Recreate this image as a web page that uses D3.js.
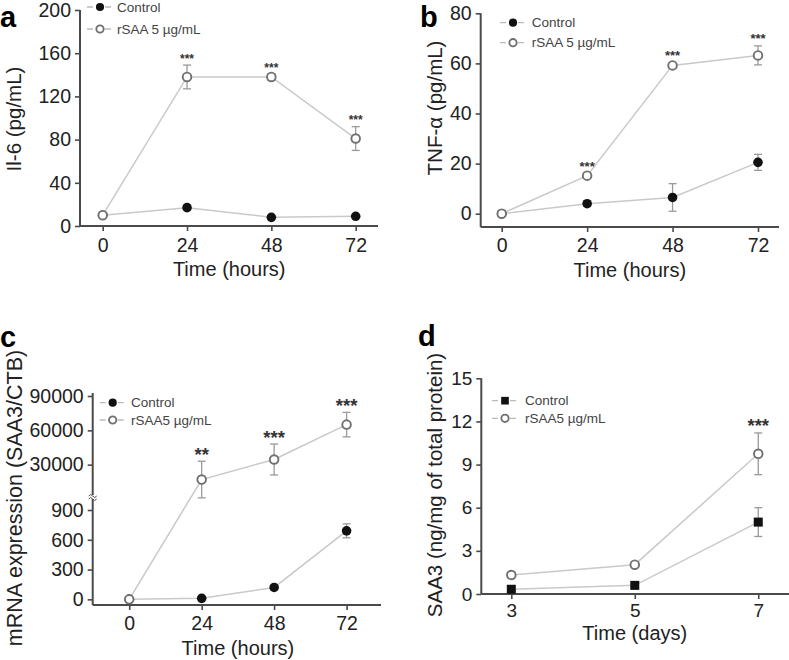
<!DOCTYPE html>
<html><head><meta charset="utf-8">
<script src="https://cdn.jsdelivr.net/npm/d3@7"></script>
<style>
body{margin:0;background:#fff;}
svg{display:block;font-family:"Liberation Sans",Arial,Helvetica,sans-serif;}
</style></head>
<body><svg id="chart" width="789" height="660"></svg>
<script>
// ---------- DATA ----------
const hours = [0, 24, 48, 72];
const days = [3, 5, 7];

const aTicks = [0, 40, 80, 120, 160, 200];
const aControl = [10, 17, 8, 9];
const aControlErr = [1, 2, 1, 1];
const aRsaa = [10, 138, 138, 81];
const aRsaaErr = [1, 11, 3, 11];
const aStars = ["", "***", "***", "***"];

const bTicks = [0, 20, 40, 60, 80];
const bControl = [0, 4, 6.5, 20.5];
const bControlErr = [0.5, 1, 5.5, 3.2];
const bRsaa = [0, 15.2, 59.2, 63.2];
const bRsaaErr = [0.5, 1, 1, 3.8];
const bStars = ["", "***", "***", "***"];

const cTicksLow = [0, 300, 600, 900];
const cTicksHigh = [30000, 60000, 90000];
const cControl = [0, 10, 120, 690];
const cControlErr = [5, 10, 15, 70];
const cRsaa = [0, 17000, 34500, 65000];
const cRsaaErr = [0, 16000, 13500, 10700];
const cStars = ["", "**", "***", "***"];

const dTicks = [0, 3, 6, 9, 12, 15];
const dControl = [0.33, 0.6, 5.0];
const dControlErr = [0.1, 0.1, 1.0];
const dRsaa = [1.32, 2.04, 9.75];
const dRsaaErr = [0.2, 0.15, 1.45];
const dStars = ["", "", "***"];

// ---------- STYLE ----------
const axisColor = "#4a4a4a";
const textColor = "#222";
const lineColor = "#c9c9c9";
const errColor = "#9a9a9a";
const openStroke = "#707070";
const fmt = d3.format("d");

const svg = d3.select("#chart");

function drawPanel(p) {
  const g = svg.append("g");
  const x = p.x;
  const yFor = p.yFor;

  // axes
  const xAxis = d3.axisBottom(x).tickValues(p.xTicks).tickFormat(fmt).tickSize(5).tickSizeOuter(0).tickPadding(p.xPad);
  const gx = g.append("g").attr("transform", `translate(0,${p.xAxisY})`).call(xAxis);
  p.yAxes.forEach(ya => {
    const yAxis = d3.axisLeft(ya.scale).tickValues(ya.ticks).tickFormat(fmt).tickSize(5).tickSizeOuter(0).tickPadding(4);
    const gy = g.append("g").attr("transform", `translate(${p.yAxisX},0)`).call(yAxis);
    gy.select(".domain").remove();
    gy.selectAll(".tick line").attr("stroke", axisColor).attr("stroke-width", 1.6);
    gy.selectAll(".tick text").attr("font-size", p.tickFont).attr("fill", textColor);
  });
  gx.select(".domain").remove();
  gx.selectAll(".tick line").attr("stroke", axisColor).attr("stroke-width", 1.6);
  gx.selectAll(".tick text").attr("font-size", p.tickFont).attr("fill", textColor);

  // axis lines
  const xr = x.range();
  g.append("line").attr("x1", xr[0]).attr("x2", xr[1]).attr("y1", p.xAxisY).attr("y2", p.xAxisY)
    .attr("stroke", axisColor).attr("stroke-width", 2);
  g.append("line").attr("x1", p.yAxisX).attr("x2", p.yAxisX).attr("y1", p.xAxisY).attr("y2", p.yTop)
    .attr("stroke", axisColor).attr("stroke-width", 2);

  if (p.breakAt) {
    const bx = p.yAxisX, by = p.breakAt;
    g.append("rect").attr("x", bx - 3).attr("y", by - 2).attr("width", 6).attr("height", 4).attr("fill", "#fff");
    g.append("path").attr("d", `M${bx-4},${by-1} q2,-3 4,0 t4,0 M${bx-4},${by+2} q2,-3 4,0 t4,0`)
      .attr("fill", "none").attr("stroke", axisColor).attr("stroke-width", 1);
  }

  // titles
  g.append("text").attr("x", (x(p.xTicks[0]) + x(p.xTicks[p.xTicks.length - 1])) / 2).attr("y", p.xTitleY)
    .attr("text-anchor", "middle").attr("font-size", 20).attr("fill", textColor).text(p.xTitle);
  g.append("text").attr("transform", `translate(${p.yTitleX},${p.yTitleY}) rotate(-90)`)
    .attr("text-anchor", "middle").attr("dominant-baseline", "central")
    .attr("font-size", p.yTitleFont).attr("fill", textColor).text(p.yTitle);
  g.append("text").attr("x", p.letterX).attr("y", p.letterY).attr("font-size", 29).attr("font-weight", "bold")
    .attr("fill", "#000").text(p.letter);

  // series
  const series = [
    {vals: p.control, errs: p.controlErr, open: false},
    {vals: p.rsaa, errs: p.rsaaErr, open: true}
  ];
  series.forEach(s => {
    const pts = p.xVals.map((t, i) => ({t, v: s.vals[i], e: s.errs[i]}));
    g.append("path").datum(pts)
      .attr("d", d3.line().x(d => x(d.t)).y(d => yFor(d.v)(d.v)))
      .attr("fill", "none").attr("stroke", lineColor).attr("stroke-width", 1.5);
    pts.forEach(d => {
      if (d.e <= 0) return;
      const ys = yFor(d.v);
      const y1 = ys(d.v - d.e), y2 = ys(d.v + d.e), cx = x(d.t);
      g.append("line").attr("x1", cx).attr("x2", cx).attr("y1", y1).attr("y2", y2)
        .attr("stroke", errColor).attr("stroke-width", 1.3);
      [y1, y2].forEach(yy => g.append("line").attr("x1", cx - 4).attr("x2", cx + 4).attr("y1", yy).attr("y2", yy)
        .attr("stroke", errColor).attr("stroke-width", 1.3));
    });
  });
  series.forEach(s => {
    p.xVals.forEach((t, i) => {
      const v = s.vals[i];
      drawMarker(g, x(t), yFor(v)(v), s.open, p.square);
    });
  });

  // stars
  p.stars.forEach((st, i) => {
    if (!st) return;
    const v = p.rsaa[i], e = p.rsaaErr[i];
    const ys = yFor(v);
    const yTop = ys(v + Math.max(e, 0)) - p.starGap;
    g.append("text").attr("x", x(p.xVals[i])).attr("y", yTop + 0.57 * p.starFont)
      .attr("text-anchor", "middle").attr("font-size", p.starFont).attr("font-weight", "bold")
      .attr("fill", "#333").text(st);
  });

  // legend
  const labels = ["Control", p.rsaaLabel];
  labels.forEach((lab, i) => {
    const ly = p.legY[i];
    g.append("line").attr("x1", p.legX - 13).attr("x2", p.legX + 13).attr("y1", ly).attr("y2", ly)
      .attr("stroke", "#bbb").attr("stroke-width", 1.3).attr("stroke-dasharray", "6,3");
    drawMarker(g, p.legX, ly, i === 1, p.square && i === 0, 0.85);
    g.append("text").attr("x", p.legTextX).attr("y", ly).attr("dominant-baseline", "central")
      .attr("font-size", 13.5).attr("fill", "#444").text(lab);
  });
}

function drawMarker(g, cx, cy, open, square, k = 1) {
  if (open) {
    g.append("circle").attr("cx", cx).attr("cy", cy).attr("r", 4.3 * k)
      .attr("fill", "#fff").attr("stroke", openStroke).attr("stroke-width", 1.9);
  } else if (square) {
    const s = 9 * k;
    g.append("rect").attr("x", cx - s / 2).attr("y", cy - s / 2).attr("width", s).attr("height", s).attr("fill", "#111");
  } else {
    g.append("circle").attr("cx", cx).attr("cy", cy).attr("r", 4.8 * k).attr("fill", "#111");
  }
}

// ---------- PANEL A ----------
const xa = d3.scaleLinear().domain([-6.46, 78.35]).range([80, 378]);
const ya = d3.scaleLinear().domain([0, 200]).range([226, 10]);
drawPanel({
  x: xa, xVals: hours, xTicks: hours, xAxisY: 226, xPad: 7, yAxisX: 80, yTop: 10,
  yAxes: [{scale: ya, ticks: aTicks}], yFor: () => ya,
  tickFont: 19.5, xTitle: "Time (hours)", xTitleY: 276, yTitle: "Il-6 (pg/mL)", yTitleX: 13, yTitleY: 119, yTitleFont: 20.5,
  letter: "a", letterX: 0, letterY: 27,
  control: aControl, controlErr: aControlErr, rsaa: aRsaa, rsaaErr: aRsaaErr,
  stars: aStars, starGap: 9, starFont: 12,
  rsaaLabel: "rSAA 5 µg/mL", legX: 100, legTextX: 117, legY: [7, 29]
});

// ---------- PANEL B ----------
const xb = d3.scaleLinear().domain([-5.9, 77.9]).range([480.7, 779]);
const yb = d3.scaleLinear().domain([-5.3, 80]).range([227, 13.3]);
drawPanel({
  x: xb, xVals: hours, xTicks: hours, xAxisY: 227, xPad: 6, yAxisX: 480.7, yTop: 13.3,
  yAxes: [{scale: yb, ticks: bTicks}], yFor: () => yb,
  tickFont: 19.5, xTitle: "Time (hours)", xTitleY: 277, yTitle: "TNF-α (pg/mL)", yTitleX: 434, yTitleY: 108, yTitleFont: 20.5,
  letter: "b", letterX: 420, letterY: 27,
  control: bControl, controlErr: bControlErr, rsaa: bRsaa, rsaaErr: bRsaaErr,
  stars: bStars, starGap: 10, starFont: 13,
  rsaaLabel: "rSAA 5 µg/mL", legX: 513, legTextX: 531.7, legY: [22.7, 42.7]
});

// ---------- PANEL C ----------
const xc = d3.scaleLinear().domain([-12.1, 83.4]).range([92.7, 381]);
const ycLow = d3.scaleLinear().domain([-57, 900]).range([605, 510]);
const ycHigh = d3.scaleLinear().domain([0, 90000]).range([499, 396]);
drawPanel({
  x: xc, xVals: hours, xTicks: hours, xAxisY: 605, xPad: 6, yAxisX: 92.7, yTop: 393,
  yAxes: [{scale: ycLow, ticks: cTicksLow}, {scale: ycHigh, ticks: cTicksHigh}],
  yFor: v => (v > 1000 ? ycHigh : ycLow), breakAt: 497,
  tickFont: 19.5, xTitle: "Time (hours)", xTitleY: 655, yTitle: "mRNA expression (SAA3/CTB)", yTitleX: 15, yTitleY: 498, yTitleFont: 21.5,
  letter: "c", letterX: 0, letterY: 347,
  control: cControl, controlErr: cControlErr, rsaa: cRsaa, rsaaErr: cRsaaErr,
  stars: cStars, starGap: 11, starFont: 18.5,
  rsaaLabel: "rSAA5 µg/mL", legX: 112.7, legTextX: 131, legY: [402.7, 420]
});

// ---------- PANEL D ----------
const xd = d3.scaleLinear().domain([2.514, 7.498]).range([481.3, 789]);
const yd = d3.scaleLinear().domain([0, 15]).range([594, 378.3]);
drawPanel({
  x: xd, xVals: days, xTicks: days, xAxisY: 594, xPad: 5, yAxisX: 481.3, yTop: 378.3,
  yAxes: [{scale: yd, ticks: dTicks}], yFor: () => yd,
  tickFont: 19, xTitle: "Time (days)", xTitleY: 640, yTitle: "SAA3 (ng/mg of total protein)", yTitleX: 434, yTitleY: 485, yTitleFont: 20.5,
  letter: "d", letterX: 418, letterY: 346, square: true,
  control: dControl, controlErr: dControlErr, rsaa: dRsaa, rsaaErr: dRsaaErr,
  stars: dStars, starGap: 11, starFont: 18.5,
  rsaaLabel: "rSAA5 µg/mL", legX: 505, legTextX: 525, legY: [400.7, 418.3]
});
</script></body></html>
